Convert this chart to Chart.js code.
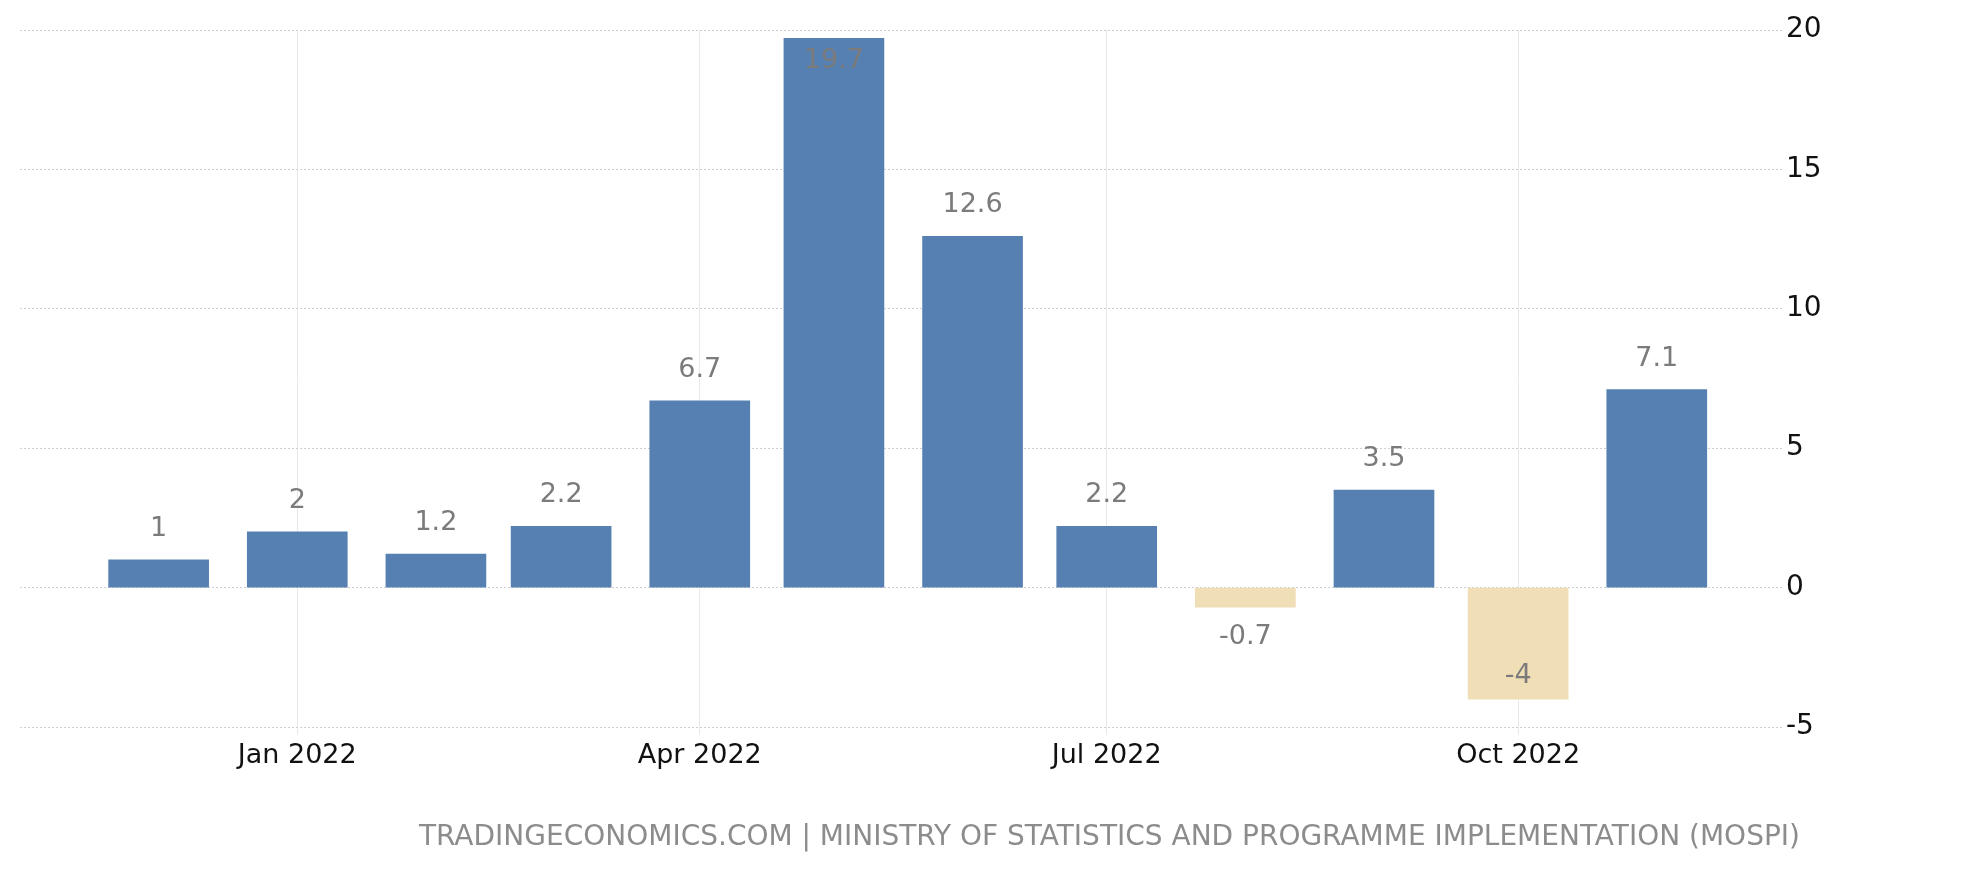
<!DOCTYPE html>
<html>
<head>
<meta charset="utf-8">
<script src="https://cdn.jsdelivr.net/npm/chart.js@4.4.0/dist/chart.umd.min.js"></script>
<style>
  html, body { margin: 0; padding: 0; background: #fff; }
  #wrap { width: 1962px; height: 872px; }
</style>
</head>
<body>
<div id="wrap"><canvas id="myChart" width="1962" height="872"></canvas></div>
<script>
const months = ["2021-12", "2022-01", "2022-02", "2022-03", "2022-04", "2022-05",
  "2022-06", "2022-07", "2022-08", "2022-09", "2022-10", "2022-11"];
const values = [1, 2, 1.2, 2.2, 6.7, 19.7, 12.6, 2.2, -0.7, 3.5, -4, 7.1];
const tickMonths = ["2022-01", "2022-04", "2022-07", "2022-10"];
const tickLabels = ["Jan 2022", "Apr 2022", "Jul 2022", "Oct 2022"];
const yTicks = [-5, 0, 5, 10, 15, 20];
const rangeStart = "2021-10-31";
const rangeEnd = "2022-11-29";
const sourceText = "TRADINGECONOMICS.COM | MINISTRY OF STATISTICS AND PROGRAMME IMPLEMENTATION (MOSPI)";

const FONT = "'DejaVu Sans', sans-serif";
const blue = "rgb(86, 128, 178)";
const tan = "rgb(240, 222, 182)";

// days counted from 1 Jan 2022, so the x axis keeps real month lengths
function dayOf(s) {
  const p = s.split("-").map(Number);
  const d = Date.UTC(p[0], p[1] - 1, p[2] || 1);
  return (d - Date.UTC(2022, 0, 1)) / 86400000;
}

const points = months.map((m, i) => ({ x: dayOf(m), y: values[i] }));
const tickDays = tickMonths.map(dayOf);

//value labels above / below each bar
const barLabels = {
  id: "barLabels",
  afterDatasetsDraw(chart) {
    const ctx = chart.ctx;
    const area = chart.chartArea;
    const meta = chart.getDatasetMeta(0);
    ctx.save();
    ctx.font = "27px " + FONT;
    ctx.fillStyle = "#7b7b7b";
    ctx.textAlign = "center";
    ctx.textBaseline = "middle";
    meta.data.forEach((bar, i) => {
      const v = values[i];
      let y;
      if (v >= 0) {
        y = bar.y - 31;
        if (y - 14 < area.top) y = bar.y + 23;
      } else {
        y = bar.y + 30;
        if (y + 14 > area.bottom) y = bar.y - 23;
      }
      ctx.fillText(String(v), bar.x, y);
    });
    ctx.restore();
  }
};

const sourceLine = {
  id: "sourceLine",
  afterDraw(chart) {
    const ctx = chart.ctx;
    ctx.save();
    ctx.font = "28px " + FONT;
    ctx.fillStyle = "#8c8c8c";
    ctx.textAlign = "right";
    ctx.textBaseline = "middle";
    ctx.fillText(sourceText, 1800, 838, 1400);
    ctx.restore();
  }
};

const config = {
  type: "bar",
  data: {
    datasets: [{
      data: points,
      backgroundColor: (c) => (values[c.dataIndex] < 0 ? tan : blue),
      borderWidth: 0,
      barThickness: 100
    }]
  },
  options: {
    responsive: false,
    animation: false,
    devicePixelRatio: 1,
    layout: { padding: { left: 20, top: 30, right: 0, bottom: 85 } },
    plugins: {
      legend: { display: false },
      tooltip: { enabled: false }
    },
    scales: {
      x: {
        type: "linear",
        offset: false,
        min: dayOf(rangeStart),
        max: dayOf(rangeEnd),
        afterBuildTicks: (s) => { s.ticks = tickDays.map((v) => ({ value: v })); },
        afterFit: (s) => { s.height = 60; },
        grid: { offset: false, color: "#e9e9e9", lineWidth: 1, drawTicks: true, tickLength: 8, tickColor: "#e9e9e9" },
        border: { display: false },
        ticks: {
          padding: 5,
          maxRotation: 0,
          autoSkip: false,
          color: "#111",
          font: { size: 27, family: FONT },
          callback: (v) => tickLabels[tickDays.indexOf(v)] || ""
        }
      },
      y: {
        position: "right",
        min: -5,
        max: 20,
        afterBuildTicks: (s) => { s.ticks = yTicks.map((v) => ({ value: v })); },
        afterFit: (s) => { s.width = 180; },
        grid: { color: "#cfcfcf", lineWidth: 1, drawTicks: false },
        border: { display: false, dash: [2, 2] },
        ticks: {
          padding: 4,
          color: "#111",
          font: { size: 28, family: FONT }
        }
      }
    }
  },
  plugins: [barLabels, sourceLine]
};

const myChart = new Chart(document.getElementById("myChart"), config);
</script>
</body>
</html>
